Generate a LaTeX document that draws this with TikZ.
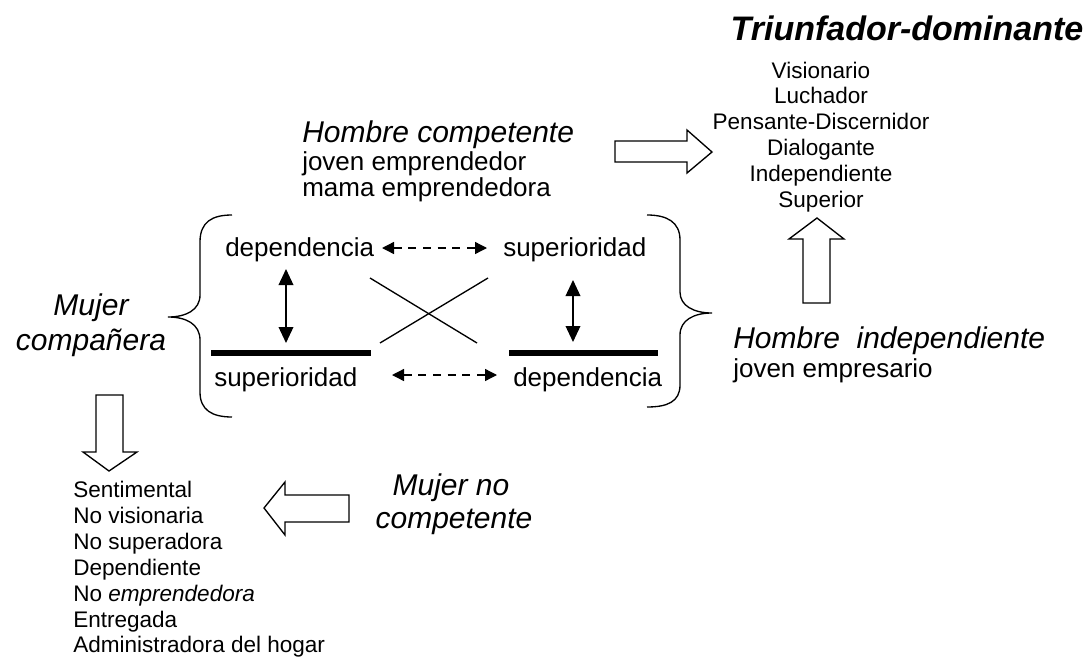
\documentclass[tikz,border=0pt]{standalone}
\usepackage{fontspec}
\setmainfont{Liberation Sans}
\usetikzlibrary{arrows.meta}
\begin{document}
\begin{tikzpicture}[x=0.75pt,y=-0.75pt,
  head/.style={font=\fontsize{22.5}{27}\selectfont\itshape, inner sep=0pt},
  body/.style={font=\fontsize{19.5}{23}\selectfont, inner sep=0pt},
  lst/.style={font=\fontsize{16.9}{20}\selectfont, inner sep=0pt},
  ttl/.style={font=\fontsize{25.5}{30}\selectfont\bfseries\itshape, inner sep=0pt},
  thin/.style={line width=1pt},
  bar/.style={line width=4.9pt},
  blockarrow/.style={line width=1pt, fill=white, line join=miter},
  dbl/.style={line width=1.1pt, {Triangle[length=12pt,width=11pt]}-{Triangle[length=12pt,width=11pt]}},
  dsh/.style={line width=1pt, dash pattern=on 6pt off 5pt, {Triangle[length=9pt,width=9pt]}-{Triangle[length=9pt,width=9pt]}}
]
\path[use as bounding box] (0,0) rectangle (1089,657);

% title and right list
\node[ttl, anchor=base] (title) at (907,40) {Triunfador-dominante};
\foreach \t [count=\i] in {Visionario,Luchador,Pensante-Discernidor,Dialogante,Independiente,Superior}{
  \node[lst, anchor=base] (r\i) at (821,{78+25.8*(\i-1)}) {\t};
}

% Hombre competente
\node[head, anchor=base west] (hc) at (302,142) {Hombre competente};
\node[body, anchor=base west] (hc1) at (302,170) {joven emprendedor};
\node[body, anchor=base west] (hc2) at (302,196) {mama emprendedora};

% Hombre independiente
\node[head, anchor=base west] (hi) at (733,348) {Hombre\ \ independiente};
\node[body, anchor=base west] (hi1) at (733,377) {joven empresario};

% Mujer compañera
\node[head, anchor=base] (mc1) at (91,315) {Mujer};
\node[head, anchor=base] (mc2) at (91,350) {compañera};

% Mujer no competente
\node[head, anchor=base] (mn1) at (451,495) {Mujer no};
\node[head, anchor=base] (mn2) at (454,528) {competente};

% left list
\node[lst, anchor=base west] (l1) at (73,497) {Sentimental};
\node[lst, anchor=base west] (l2) at (73,523) {No visionaria};
\node[lst, anchor=base west] (l3) at (73,549) {No superadora};
\node[lst, anchor=base west] (l4) at (73,575) {Dependiente};
\node[lst, anchor=base west] (l5) at (73,601) {No \textit{emprendedora}};
\node[lst, anchor=base west] (l6) at (73,627) {Entregada};
\node[lst, anchor=base west] (l7) at (73,652) {Administradora del hogar};

% central words
\node[body, anchor=base west] (dep1) at (225,256) {dependencia};
\node[body, anchor=base west] (sup1) at (503,256) {superioridad};
\node[body, anchor=base west] (sup2) at (214,386) {superioridad};
\node[body, anchor=base west] (dep2) at (513,386) {dependencia};

% bars
\coordinate (b1a) at (211,353); \coordinate (b1b) at (371,353);
\coordinate (b2a) at (509,353); \coordinate (b2b) at (658,353);
\draw[bar] (b1a) -- (b1b);
\draw[bar] (b2a) -- (b2b);

% vertical double arrows
\coordinate (v1a) at (286,269); \coordinate (v1b) at (286,343);
\coordinate (v2a) at (573,280); \coordinate (v2b) at (573,342);
\draw[dbl] (v1a) -- (v1b);
\draw[dbl] (v2a) -- (v2b);

% dashed double arrows
\coordinate (d1a) at (382,248); \coordinate (d1b) at (487,248);
\coordinate (d2a) at (392,375); \coordinate (d2b) at (497,375);
\draw[dsh] (d1a) -- (d1b);
\draw[dsh] (d2a) -- (d2b);

% cross
\coordinate (c1a) at (370,278); \coordinate (c1b) at (477,343);
\coordinate (c2a) at (488,278); \coordinate (c2b) at (380,343);
\draw[thin] (c1a) -- (c1b);
\draw[thin] (c2a) -- (c2b);

% braces
\draw[thin] (232,215) .. controls (212,215) and (200,222) .. (200,242) -- (200,295)
  .. controls (200,310) and (186,317) .. (168,317)
  .. controls (186,317) and (200,324) .. (200,340) -- (200,392)
  .. controls (200,410) and (212,417) .. (232,417);
\draw[thin] (647,215) .. controls (667,215) and (680,222) .. (680,240) -- (680,292)
  .. controls (680,306) and (694,313) .. (712,313)
  .. controls (694,313) and (680,320) .. (680,335) -- (680,385)
  .. controls (680,402) and (667,407) .. (647,407);

% block arrows
\draw[blockarrow] (615,141) -- (687,141) -- (687,130) -- (712,152) -- (687,173) -- (687,162) -- (615,162) -- cycle;
\draw[blockarrow] (803,303) -- (803,239) -- (789,239) -- (817,218) -- (844,239) -- (830,239) -- (830,303) -- cycle;
\draw[blockarrow] (96,395) -- (123,395) -- (123,452) -- (137,452) -- (109,471) -- (83,452) -- (96,452) -- cycle;
\draw[blockarrow] (349,495) -- (285,495) -- (285,482) -- (264,508) -- (285,535) -- (285,522) -- (349,522) -- cycle;
\end{tikzpicture}
\end{document}
